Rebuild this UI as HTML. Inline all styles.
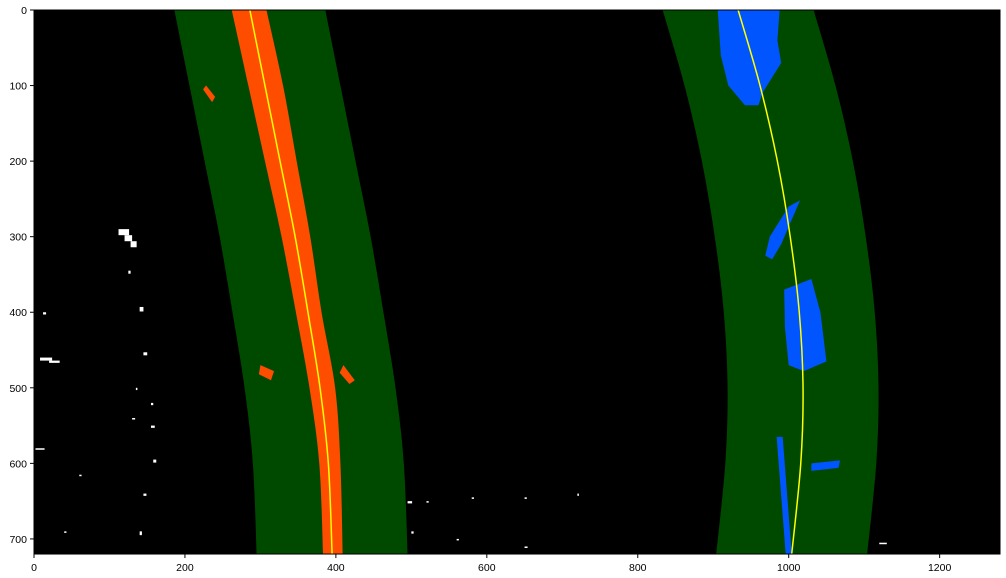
<!DOCTYPE html>
<html><head><meta charset="utf-8"><style>
body{margin:0;background:#fff;width:1006px;height:578px;overflow:hidden}
svg{display:block;font-family:"Liberation Sans",sans-serif}
</style></head><body>
<svg id="chart" width="1006" height="578" viewBox="0 0 1006 578">
<rect x="0" y="0" width="1006" height="578" fill="#fff"/>
<g id="plot"></g>
<g id="axes"></g>
</svg>
<script>
// data (image coords, 1280x720)
const sampleYs = [0, 100, 200, 300, 400, 500, 600, 720];
const leftFitX = [286, 306, 326, 346, 363, 379, 390, 395];
const rightFitX = [933, 962, 985, 1002, 1014, 1019, 1016, 1004];
const bandMargin = [100];
const leftPixLeftOff = [-24, -22, -20, -18, -16, -14, -12, -12];
const leftPixRightOff = [22, 24, 22, 20, 18, 20, 16, 14];
const blueBlobs = [
  [[906,0],[988,0],[985,40],[990,70],[965,110],[960,126],[942,126],[920,100],[910,60]],
  [[969,325],[975,300],[1000,260],[1015,252],[990,310],[978,330]],
  [[994,370],[1030,356],[1042,400],[1050,465],[1020,478],[1000,470],[995,420]],
  [[984,565],[992,565],[1004,720],[996,720]],
  [[1030,600],[1068,596],[1066,606],[1030,610]]
];
const orangeBlobs = [[[228,100],[240,115],[236,122],[224,105]],[[300,470],[318,478],[314,490],[298,482]],[[410,470],[425,490],[418,495],[405,480]]];
const whiteSpecks = [[112,290,14,8],[120,298,10,8],[128,306,8,8],[125,345,3,4],[140,393,5,6],[12,400,4,3],[8,460,16,4],[20,464,14,3],[145,453,5,4],[135,500,2,3],[155,520,3,3],[130,540,4,2],[155,550,5,3],[2,580,12,2],[158,595,4,4],[60,615,3,2],[145,640,4,3],[495,650,6,3],[520,650,3,2],[580,645,3,2],[650,645,3,2],[720,640,2,3],[500,690,3,3],[560,700,3,2],[650,710,4,2],[1120,705,10,2],[140,690,3,5],[40,690,3,2]];
const xTicks = [0, 200, 400, 600, 800, 1000, 1200];
const yTicks = [0, 100, 200, 300, 400, 500, 600, 700];

const X0=34, Y0=10, S=0.7547, SY=0.7556, W=1280, H=720;
const sx = v => X0 + v*S;
const sy = v => Y0 + v*SY;
const NS='http://www.w3.org/2000/svg';
const plot=document.getElementById('plot'), axes=document.getElementById('axes');
function mk(tag, attrs, parent){const e=document.createElementNS(NS,tag);for(const k in attrs)e.setAttribute(k,attrs[k]);parent.appendChild(e);return e;}

const bg = mk('rect',{x:sx(0),y:sy(0),width:W*S,height:H*SY,fill:'#000'},plot);



// smooth curve through points (Catmull-Rom -> cubic bezier)
function smooth(pts, start){
  let d = start ? 'M'+pts[0][0]+','+pts[0][1] : ' L'+pts[0][0]+','+pts[0][1];
  for(let i=0;i<pts.length-1;i++){
    const p0=pts[Math.max(0,i-1)],p1=pts[i],p2=pts[i+1],p3=pts[Math.min(pts.length-1,i+2)];
    const c1=[p1[0]+(p2[0]-p0[0])/6,p1[1]+(p2[1]-p0[1])/6];
    const c2=[p2[0]-(p3[0]-p1[0])/6,p2[1]-(p3[1]-p1[1])/6];
    d+=' C'+c1[0]+','+c1[1]+' '+c2[0]+','+c2[1]+' '+p2[0]+','+p2[1];
  }
  return d;
}
function bandPath(xs, loOff, hiOff){
  const l = sampleYs.map((y,i)=>[sx(xs[i]+loOff[i]),sy(y)]);
  const r = sampleYs.map((y,i)=>[sx(xs[i]+hiOff[i]),sy(y)]).reverse();
  return smooth(l,true)+smooth(r,false)+'Z';
}
const m = bandMargin[0];
const neg = sampleYs.map(()=>-m), pos = sampleYs.map(()=>m);
const lb = mk('path',{d:bandPath(leftFitX,neg,pos),fill:'#004a00'},plot);


const rb = mk('path',{d:bandPath(rightFitX,neg,pos),fill:'#004a00'},plot);



const lp = mk('path',{d:bandPath(leftFitX,leftPixLeftOff,leftPixRightOff),fill:'#ff4d00'},plot);


orangeBlobs.forEach(b=>{
  const p=mk('polygon',{points:b.map(q=>sx(q[0])+','+sy(q[1])).join(' '),fill:'#ff4d00'},plot);
  
  
});
blueBlobs.forEach(b=>{
  const p=mk('polygon',{points:b.map(q=>sx(q[0])+','+sy(q[1])).join(' '),fill:'#0055ff'},plot);
  
  
});
whiteSpecks.forEach(s=>{
  const r=mk('rect',{x:sx(s[0]),y:sy(s[1]),width:s[2]*S,height:s[3]*SY,fill:'#fff'},plot);
  
  
});
function fitLine(xs){
  return smooth(sampleYs.map((y,i)=>[sx(xs[i]),sy(y)]),true);
}
const ll=mk('path',{d:fitLine(leftFitX),stroke:'#ffff00',fill:'none','stroke-width':1.5},plot);


const rl=mk('path',{d:fitLine(rightFitX),stroke:'#ffff00',fill:'none','stroke-width':1.5},plot);



const frame=mk('rect',{x:sx(0),y:sy(0),width:W*S,height:H*SY,fill:'none',stroke:'#000','stroke-width':1},axes);


xTicks.forEach(t=>{
  const x=sx(t), y=sy(H);
  const l=mk('line',{x1:x,x2:x,y1:y,y2:y+4,stroke:'#000'},axes);
  
  
  const tx=mk('text',{x:x,y:y+17,'font-size':10.5,'text-anchor':'middle',fill:'#000'},axes);
  tx.textContent=t;
  
  
});
yTicks.forEach(t=>{
  const y=sy(t), x=sx(0);
  const l=mk('line',{x1:x-4,x2:x,y1:y,y2:y,stroke:'#000'},axes);
  
  
  const tx=mk('text',{x:x-7,y:y+4,'font-size':10.5,'text-anchor':'end',fill:'#000'},axes);
  tx.textContent=t;
  
  
});
</script>
</body></html>
